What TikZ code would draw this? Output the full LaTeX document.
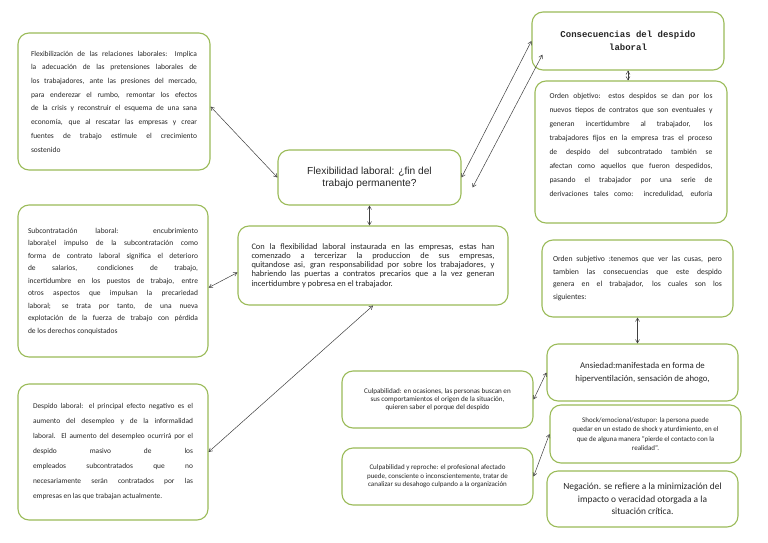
\documentclass[tikz,border=0pt]{standalone}
\usepackage{fontspec}
\setmainfont{Carlito}
\newfontfamily\arialf{Liberation Sans}
\newfontfamily\monof{Liberation Mono}
\usetikzlibrary{arrows.meta,calc}
\definecolor{boxgreen}{HTML}{9BBB59}
\definecolor{txt}{HTML}{262626}
\definecolor{arr}{HTML}{404040}
\tikzset{
  box/.style={draw=boxgreen, line width=1.1pt, rounded corners=11pt, fill=white, text=txt, inner sep=0pt},
  jbox/.style={box, align=justify},
  link/.style={draw=arr, line width=0.5pt, {Straight Barb[length=3.5pt,width=4pt]}-{Straight Barb[length=3.5pt,width=4pt]}},
}
\begin{document}
\begin{tikzpicture}[x=1pt,y=-1pt]
\useasboundingbox[fill=white] (0,0) rectangle (768,543);

\node[jbox, minimum width=192pt, minimum height=137pt, text width=166pt,
  font=\fontsize{7.5}{13.7}\selectfont] (A) at (114,101.5) {%
Flexibilización de las relaciones laborales: Implica\linebreak
la adecuación de las pretensiones laborales de\linebreak
los trabajadores, ante las presiones del mercado,\linebreak
para enderezar el rumbo, remontar los efectos\linebreak
de la crisis y reconstruir el esquema de una sana\linebreak
economía, que al rescatar las empresas y crear\linebreak
fuentes de trabajo estimule el crecimiento\linebreak
sostenido};

\node[jbox, minimum width=190pt, minimum height=152pt, text width=170pt,
  font=\fontsize{7.5}{12.5}\selectfont] (B) at (113,281) {%
Subcontratación laboral: encubrimiento\linebreak
laboral;el impulso de la subcontratación como\linebreak
forma de contrato laboral significa el deterioro\linebreak
de salarios, condiciones de trabajo,\linebreak
incertidumbre en los puestos de trabajo, entre\linebreak
otros aspectos que impulsan la precariedad\linebreak
laboral; se trata por tanto, de una nueva\linebreak
explotación de la fuerza de trabajo con pérdida\linebreak
de los derechos conquistados};

\node[jbox, minimum width=190pt, minimum height=136pt, text width=160pt,
  font=\fontsize{7.4}{15}\selectfont] (C) at (113,452) {%
Despido laboral: el principal efecto negativo es el\linebreak
aumento del desempleo y de la informalidad\linebreak
laboral. El aumento del desempleo ocurrirá por el\linebreak
despido masivo de los\linebreak
empleados subcontratados que no\linebreak
necesariamente serán contratados por las\linebreak
empresas en las que trabajan actualmente.};

\node[box, minimum width=183pt, minimum height=55pt, align=center,
  font=\arialf\fontsize{10.2}{12}\selectfont] (T) at (369.5,177.5)
  {Flexibilidad laboral: ¿fin del\\trabajo permanente?};

\node[jbox, minimum width=270pt, minimum height=79pt, text width=243pt,
  font=\fontsize{8.4}{9.2}\selectfont] (M) at (373,265.5) {%
Con la flexibilidad laboral instaurada en las empresas, estas han\linebreak
comenzado a tercerizar la produccion de sus empresas,\linebreak
quitandose asi, gran responsabilidad por sobre los trabajadores, y\linebreak
habriendo las puertas a contratos precarios que a la vez generan\linebreak
incertidumbre y pobresa en el trabajador.};

\node[box, minimum width=192pt, minimum height=58pt, align=center,
  font=\monof\bfseries\fontsize{9}{13}\selectfont] (K) at (628,41)
  {Consecuencias del despido\\laboral};

\node[jbox, minimum width=192pt, minimum height=142pt, text width=163pt,
  font=\fontsize{7.6}{14.1}\selectfont] (O) at (631,152) {%
Orden objetivo: estos despidos se dan por los\linebreak
nuevos tiepos de contratos que son eventuales y\linebreak
generan incertidumbre al trabajador, los\linebreak
trabajadores fijos en la empresa tras el proceso\linebreak
de despido del subcontratado también se\linebreak
afectan como aquellos que fueron despedidos,\linebreak
pasando el trabajador por una serie de\linebreak
derivaciones tales como: incredulidad, euforia\linebreak\mbox{}};

\node[jbox, minimum width=191pt, minimum height=77pt, text width=169pt,
  font=\fontsize{7.7}{12.5}\selectfont] (S) at (637.5,278.5) {%
Orden subjetivo :tenemos que ver las cusas, pero\linebreak
tambien las consecuencias que este despido\linebreak
genera en el trabajador, los cuales son los\linebreak
siguientes:};

\node[box, minimum width=191pt, minimum height=57pt, align=center,
  font=\fontsize{8.8}{12.5}\selectfont] (N) at (642.5,372.5)
  {Ansiedad:manifestada en forma de\\hiperventilación, sensación de ahogo,};

\node[box, minimum width=191pt, minimum height=57pt, align=center,
  font=\fontsize{7.1}{8}\selectfont] (P) at (437.5,399.5)
  {Culpabilidad: en ocasiones, las personas buscan en\\sus comportamientos el origen de la situación,\\quieren saber el porque del despido};

\node[box, minimum width=191pt, minimum height=58pt, align=center,
  font=\fontsize{7.0}{9.5}\selectfont] (H) at (645.5,434)
  {Shock/emocional/estupor: la persona puede\\quedar en un estado de shock y aturdimiento, en el\\que de alguna manera "pierde el contacto con la\\realidad".};

\node[box, minimum width=191pt, minimum height=57pt, align=center,
  font=\fontsize{7.0}{8.5}\selectfont] (R) at (437.5,476.5)
  {Culpabilidad y reproche: el profesional afectado\\puede, consciente o inconscientemente, tratar de\\canalizar su desahogo culpando a la organización};

\node[box, minimum width=191pt, minimum height=56pt, align=center,
  font=\fontsize{9.4}{12.5}\selectfont] (G) at (642.5,499)
  {Negación. se refiere a la minimización del\\impacto o veracidad otorgada a la\\situación crítica.};

% connectors
\coordinate (t2) at ($(T.east)+(11,10)$);
\coordinate (k2) at ($(K.south west)+(11,-16)$);
\coordinate (m1) at ($(M.west)+(0,7)$);
\draw[link] (A.-3) -- (T.west);
\draw[link] (T.east) -- (K.west);
\draw[link] (t2) -- (k2);
\draw[link] (T.south) -- (T.south |- M.north);
\draw[link] (m1) -- (B.-4);
\draw[link] (M.south) -- (C.east);
\draw[link] (K.south) -- (K.south |- O.north);
\draw[link] (S.south) -- (S.south |- N.north);
\draw[link] (P.east) -- (N.west);
\draw[link] (R.east) -- (H.west);
\end{tikzpicture}
\end{document}
